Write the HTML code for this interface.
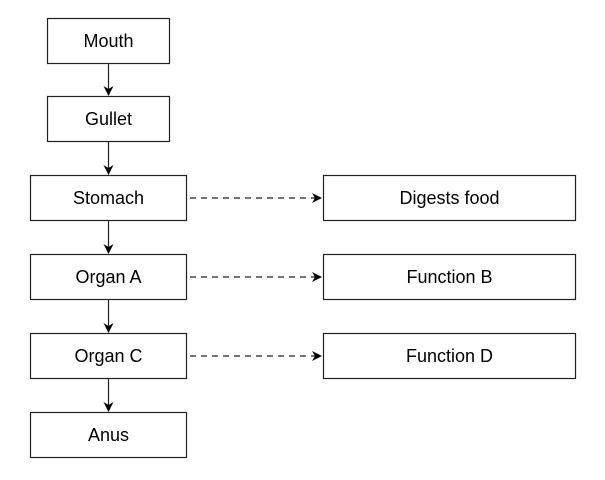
<!DOCTYPE html>
<html><head><meta charset="utf-8"><style>
html,body{margin:0;padding:0;background:#fff;}
</style></head><body>
<svg width="605" height="475" xmlns="http://www.w3.org/2000/svg" font-family="Liberation Sans, sans-serif" font-size="18" text-anchor="middle">
<defs><marker id="a" markerWidth="10" markerHeight="10" refX="9" refY="5" orient="auto" markerUnits="userSpaceOnUse"><path d="M0,0 L10,5 L0,10 L3,5 z" fill="#000"/></marker></defs>
<g fill="#fff" stroke="#222" stroke-width="1.2">
<rect x="47.5" y="18.5" width="122" height="45"/>
<rect x="47.5" y="96.5" width="122" height="45"/>
<rect x="30.5" y="175.5" width="156" height="45"/>
<rect x="30.5" y="254.5" width="156" height="45"/>
<rect x="30.5" y="333.5" width="156" height="45"/>
<rect x="30.5" y="412.5" width="156" height="45"/>
<rect x="323.5" y="175.5" width="252" height="45"/>
<rect x="323.5" y="254.5" width="252" height="45"/>
<rect x="323.5" y="333.5" width="252" height="45"/>
</g>
<g stroke="#222" stroke-width="1.2" marker-end="url(#a)">
<line x1="108.5" y1="64" x2="108.5" y2="95"/>
<line x1="108.5" y1="142" x2="108.5" y2="174"/>
<line x1="108.5" y1="221" x2="108.5" y2="253"/>
<line x1="108.5" y1="300" x2="108.5" y2="332"/>
<line x1="108.5" y1="379" x2="108.5" y2="411"/>
<line x1="190" y1="198" x2="321" y2="198" stroke-dasharray="6,5"/>
<line x1="190" y1="277" x2="321" y2="277" stroke-dasharray="6,5"/>
<line x1="190" y1="356" x2="321" y2="356" stroke-dasharray="6,5"/>
</g>
<g fill="#000">
<text x="108.5" y="47">Mouth</text>
<text x="108.5" y="125">Gullet</text>
<text x="108.5" y="204">Stomach</text>
<text x="108.5" y="283">Organ A</text>
<text x="108.5" y="362">Organ C</text>
<text x="108.5" y="441">Anus</text>
<text x="449.5" y="204">Digests food</text>
<text x="449.5" y="283">Function B</text>
<text x="449.5" y="362">Function D</text>
</g>
</svg>
</body></html>
